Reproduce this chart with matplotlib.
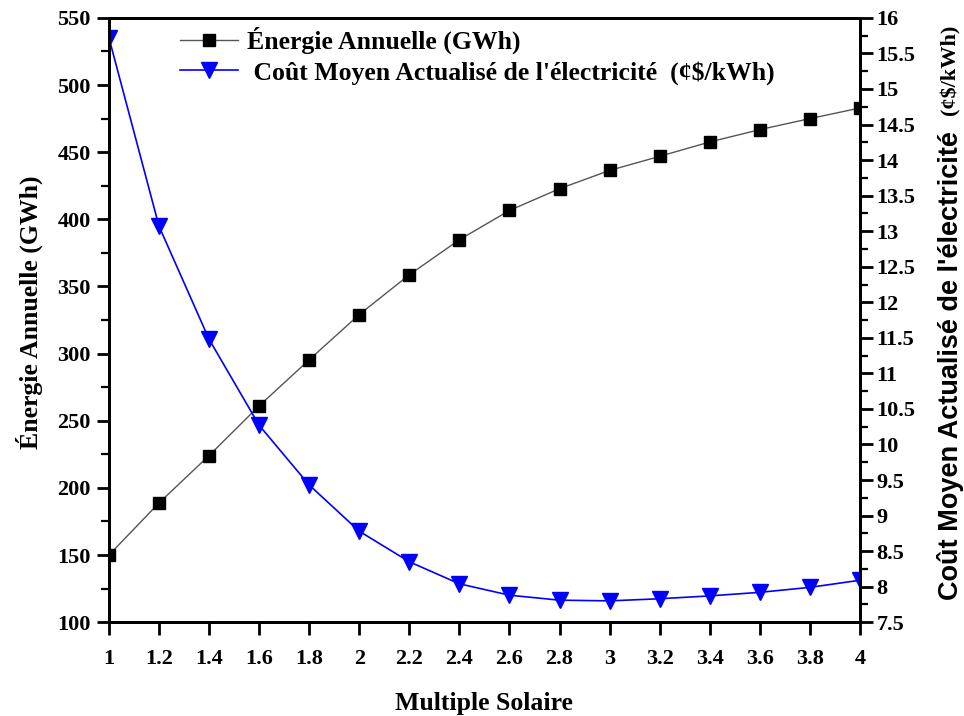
import matplotlib
matplotlib.use("Agg")
import matplotlib.pyplot as plt
from matplotlib.ticker import MultipleLocator

# ---- data ----
solar_multiple = [1.0, 1.2, 1.4, 1.6, 1.8, 2.0, 2.2, 2.4, 2.6, 2.8,
                  3.0, 3.2, 3.4, 3.6, 3.8, 4.0]
energy_gwh = [150.0, 188.8, 224.1, 261.1, 295.4, 329.1, 358.7, 384.8,
              406.6, 422.8, 436.4, 446.9, 457.6, 466.8, 475.0, 482.9]
lcoe_cents = [15.72, 13.07, 11.48, 10.27, 9.43, 8.78, 8.35, 8.04,
              7.88, 7.81, 7.80, 7.83, 7.87, 7.92, 7.99, 8.09]

x_ticks = [1.0, 1.2, 1.4, 1.6, 1.8, 2.0, 2.2, 2.4, 2.6, 2.8,
           3.0, 3.2, 3.4, 3.6, 3.8, 4.0]
x_ticklabels = ["1", "1.2", "1.4", "1.6", "1.8", "2", "2.2", "2.4", "2.6",
                "2.8", "3", "3.2", "3.4", "3.6", "3.8", "4"]

SERIF = "Liberation Serif"
SANS = "Liberation Sans"

plt.rcParams["font.family"] = SERIF
plt.rcParams["font.weight"] = "bold"

fig = plt.figure(figsize=(9.64, 7.16), dpi=100)
ax = fig.add_axes([0.113, 0.131, 0.779, 0.844])
ax2 = ax.twinx()

l1, = ax.plot(solar_multiple, energy_gwh, "-s", color="#555555", lw=1.0,
              markersize=8.5, markerfacecolor="black", markeredgecolor="black",
              label="Énergie Annuelle (GWh)")
l2, = ax2.plot(solar_multiple, lcoe_cents, "-v", color="#0000ff", lw=1.2,
               markersize=11, markerfacecolor="#0000ff", markeredgecolor="#0000ff",
               label=" Coût Moyen Actualisé de l'électricité  (¢$/kWh)")

ax.set_xlim(1, 4)
ax.set_ylim(100, 550)
ax2.set_ylim(7.5, 16)

ax.set_xticks(x_ticks)
ax.set_xticklabels(x_ticklabels)
ax.yaxis.set_major_locator(MultipleLocator(50))
ax.yaxis.set_minor_locator(MultipleLocator(25))
ax2.yaxis.set_major_locator(MultipleLocator(0.5))
ax2.yaxis.set_minor_locator(MultipleLocator(0.25))
ax2.yaxis.set_major_formatter(plt.FuncFormatter(lambda v, p: f"{v:g}"))

for a in (ax, ax2):
    for s in a.spines.values():
        s.set_linewidth(2)
    a.tick_params(which="major", length=9, width=2, direction="out",
                  labelsize=16)
    a.tick_params(which="minor", length=5.5, width=1.6, direction="out")
ax.tick_params(axis="x", pad=10)
ax.tick_params(axis="y", pad=4)
ax2.tick_params(axis="y", pad=3)

for lab in ax.get_xticklabels() + ax.get_yticklabels() + ax2.get_yticklabels():
    lab.set_fontweight("bold")

ax.set_xlabel("Multiple Solaire", fontsize=18.5, fontweight="bold", labelpad=17)
ax.set_ylabel("Énergie Annuelle (GWh)", fontsize=18.5, fontweight="bold")
ax.yaxis.set_label_coords(-0.088, 0.513)

# right label mixes a sans part and a serif unit
ax2.text(1.12, 0.036, "Coût Moyen Actualisé de l'électricité",
         transform=ax2.transAxes, rotation=90, ha="center", va="bottom",
         fontsize=19.5, fontweight="bold", family=SANS)
ax2.text(1.12, 0.84, "(¢$/kWh)", transform=ax2.transAxes, rotation=90,
         ha="center", va="bottom", fontsize=16, fontweight="bold",
         family=SERIF)

leg = ax2.legend(handles=[l1, l2], loc="upper left",
                 bbox_to_anchor=(0.0826, 1.0), frameon=False, fontsize=18.5,
                 handlelength=2.26, handletextpad=0.35, labelspacing=0.25,
                 borderaxespad=0, borderpad=0.35)
for t in leg.get_texts():
    t.set_fontweight("bold")

fig.savefig("out.png", dpi=100)
